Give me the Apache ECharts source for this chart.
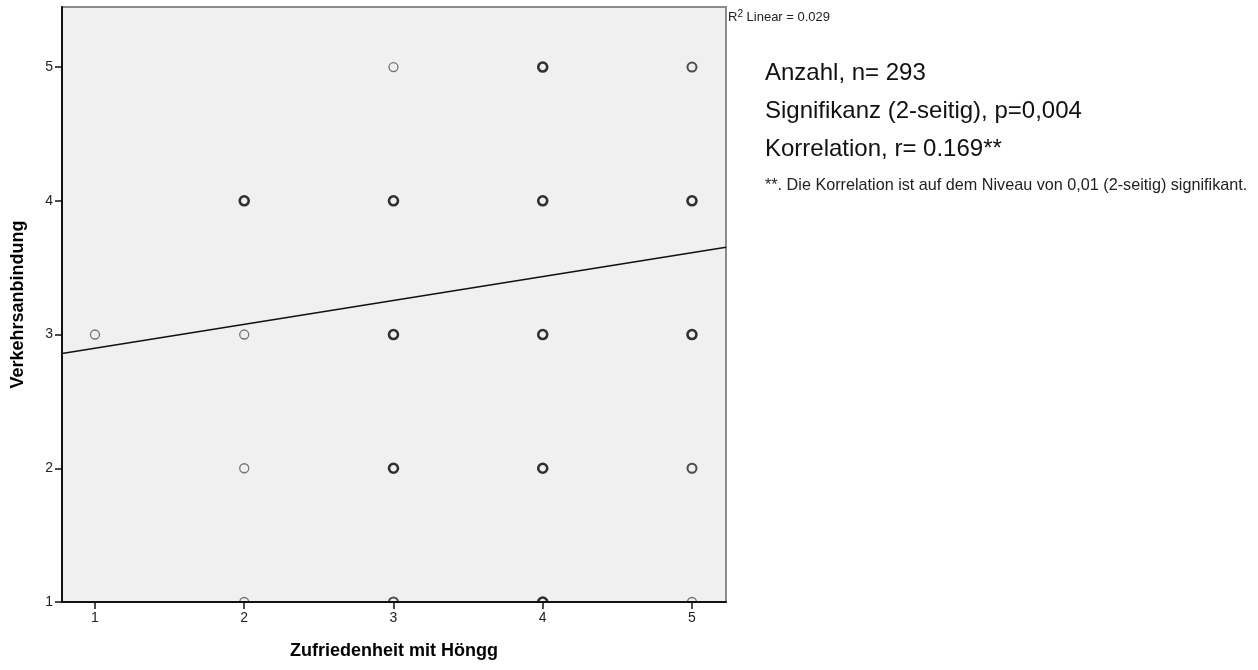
<!DOCTYPE html>
<html>
<head>
<meta charset="utf-8">
<script src="https://cdn.jsdelivr.net/npm/echarts@6/dist/echarts.min.js"></script>
<style>html,body{margin:0;padding:0;background:#fff;}#c{width:1258px;height:670px;}</style>
</head>
<body>
<div id="c"></div>
<script>
// Data
const xTicks = [1, 2, 3, 4, 5];
const yTicks = [1, 2, 3, 4, 5];
// points: [Zufriedenheit, Verkehrsanbindung, overlap weight 1=light 2=medium 3=heavy]
const pointsX = [3, 4, 5, 2, 3, 4, 5, 1, 2, 3, 4, 5, 2, 3, 4, 5, 2, 3, 4, 5];
const pointsY = [5, 5, 5, 4, 4, 4, 4, 3, 3, 3, 3, 3, 2, 2, 2, 2, 1, 1, 1, 1];
const pointsW = [1, 3, 2, 3, 3, 3, 3, 1, 1, 3, 3, 3, 1, 3, 3, 2, 1, 2, 3, 1];
// Linear fit line endpoints (at the plot edges)
const fitX = [0.779, 5.228];
const fitY = [2.858, 3.652];
const statsLines = ['Anzahl, n= 293', 'Signifikanz (2-seitig), p=0,004', 'Korrelation, r= 0.169**'];
const footnote = '**. Die Korrelation ist auf dem Niveau von 0,01 (2-seitig) signifikant.';
const r2Text = 'Linear = 0.029';

const FONT = 'Liberation Sans, Arial, sans-serif';
const styles = {1: {c: '#555', w: 1.3}, 2: {c: '#222', w: 2}, 3: {c: '#000', w: 2.6}};
const scatterData = pointsX.map((x, i) => ({
  value: [x, pointsY[i]],
  itemStyle: {borderColor: styles[pointsW[i]].c, borderWidth: styles[pointsW[i]].w}
}));

const chart = echarts.init(document.getElementById('c'), null, {renderer: 'canvas'});
const gridL = 62, gridT = 7, gridR = 532, gridB = 68;
chart.setOption({
  animation: false,
  backgroundColor: '#fff',
  grid: {left: gridL, top: gridT, right: gridR, bottom: gridB, show: true,
    containLabel: false, outerBoundsMode: 'none',
    backgroundColor: '#f0f0f0', borderColor: '#8a8a8a', borderWidth: 2},
  xAxis: {
    type: 'value', min: 0.779, max: 5.228, z: 5,
    name: 'Zufriedenheit mit Höngg', nameLocation: 'middle', nameGap: 40,
    nameTextStyle: {fontFamily: FONT, fontWeight: 'bold', fontSize: 18, color: '#000'},
    splitLine: {show: false},
    axisLine: {show: true, onZero: false, lineStyle: {color: '#111', width: 2}},
    axisTick: {show: true, length: 7, customValues: xTicks, lineStyle: {color: '#111', width: 1.5}},
    axisLabel: {customValues: xTicks, margin: 9, fontFamily: FONT, fontSize: 14, color: '#222'}
  },
  yAxis: {
    type: 'value', min: 1, max: 5.449, z: 5,
    name: 'Verkehrsanbindung', nameLocation: 'middle', nameGap: 35,
    nameTextStyle: {fontFamily: FONT, fontWeight: 'bold', fontSize: 18, color: '#000'},
    splitLine: {show: false},
    axisLine: {show: true, onZero: false, lineStyle: {color: '#111', width: 2}},
    axisTick: {show: true, length: 7, customValues: yTicks, lineStyle: {color: '#111', width: 1.5}},
    axisLabel: {customValues: yTicks, margin: 9, fontFamily: FONT, fontSize: 14, color: '#222'}
  },
  series: [
    {
      type: 'line', data: fitX.map((x, i) => [x, fitY[i]]), symbol: 'none',
      lineStyle: {color: '#111', width: 1.5}, z: 2, silent: true
    },
    {
      type: 'scatter', data: scatterData, symbol: 'circle', symbolSize: 9,
      itemStyle: {color: '#f0f0f0'}, z: 3, clip: false
    }
  ],
  graphic: [
    {type: 'rect', z: 4, silent: true,
      shape: {x: 0, y: 670 - gridB + 1, width: 1258 - gridR + 10, height: 8},
      style: {fill: '#fff'}},
    {type: 'text', left: 728, top: 9, z: 10,
      style: {
        text: '{r|R}{s|2}{r| ' + r2Text + '}',
        rich: {
          r: {fontFamily: FONT, fontSize: 13, fill: '#222', verticalAlign: 'bottom', lineHeight: 15},
          s: {fontFamily: FONT, fontSize: 10, fill: '#222', verticalAlign: 'top', lineHeight: 15, padding: [0, 0, 6, 0]}
        }
      }},
    {type: 'text', left: 765, top: 61, z: 10,
      style: {text: statsLines[0], font: '24px ' + FONT, fill: '#111'}},
    {type: 'text', left: 765, top: 99, z: 10,
      style: {text: statsLines[1], font: '24px ' + FONT, fill: '#111'}},
    {type: 'text', left: 765, top: 137, z: 10,
      style: {text: statsLines[2], font: '24px ' + FONT, fill: '#111'}},
    {type: 'text', left: 765, top: 178, z: 10,
      style: {text: footnote, font: '16.2px ' + FONT, fill: '#222'}}
  ]
});
</script>
</body>
</html>
